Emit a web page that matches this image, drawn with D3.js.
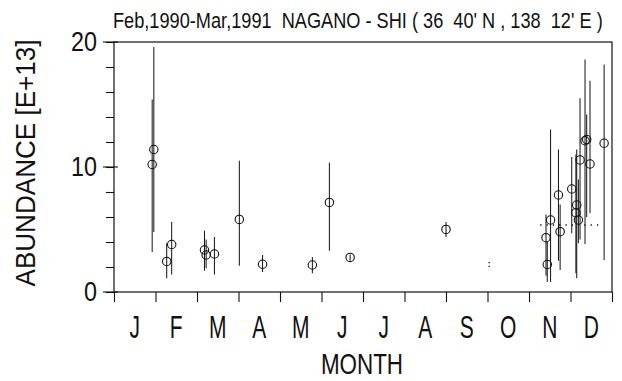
<!DOCTYPE html>
<html><head><meta charset="utf-8">
<script src="https://cdn.jsdelivr.net/npm/d3@7"></script>
<style>body{margin:0;background:#fff}svg{display:block}</style>
</head><body><svg id="c" width="622" height="381"></svg>
<script>
const titleText = "Feb,1990-Mar,1991  NAGANO - SHI ( 36  40' N , 138  12' E )";
const yTitle = "ABUNDANCE [E+13]";
const xTitle = "MONTH";
const monthLabels = ["J","F","M","A","M","J","J","A","S","O","N","D"];
const monthBounds = [0,1,2,3,4,5,6,7,8,9,10,11,12];
const yMajorTicks = [0,10,20];
const yMinorTicks = [0,2,4,6,8,10,12,14,16,18,20];

// observations: position in month units, value, error-bar low/high
const obsMonth = [0.92,0.96,1.27,1.39, 2.18,2.22,2.42,3.02, 3.58, 4.78, 5.19,5.69, 8.0,
  10.41,10.44,10.52,10.71,10.75,11.03,11.13,11.15,11.19,11.23,11.35,11.39,11.47,11.81];
const obsValue = [10.2,11.4,2.45,3.8, 3.36,2.96,3.04,5.81, 2.22, 2.16, 7.17,2.77, 5.01,
  4.35,2.2,5.76,7.76,4.83,8.24,6.35,6.96,5.76,10.56,12.1,12.2,10.24,11.9];
const obsLow = [3.2,4.8,1.1,1.4, 1.7,1.9,1.4,2.1, 1.6, 1.5, 3.3,2.5, 4.4,
  1.3,0.8,0.8,2.5,1.76,4.7,1.5,1.1,3.9,4.2,3.84,6.0,6.3,2.56];
const obsHigh = [15.4,19.6,3.9,5.6, 4.9,4.2,4.4,10.5, 2.96, 2.8, 10.35,3.0, 5.6,
  6.2,4.0,13.0,11.4,7.0,10.8,11.0,11.4,9.0,15.5,18.6,14.2,16.9,18.2];

// dotted marks
const dotVertMonth = [9.04];
const dotVertLow = [2.0];
const dotVertHigh = [2.6];
const dotHorizStart = [10.27];
const dotHorizEnd = [11.76];
const dotHorizValue = [5.36];

const svg = d3.select("#c");
const x = d3.scaleLinear().domain([0,12]).range([114,612]);
const y = d3.scaleLinear().domain([0,20]).range([292,42]);
const ink = "#111";
const font = "'Liberation Sans',Arial,sans-serif";

// title (fit to width 490 by horizontal scaling)
const title = svg.append("text").attr("x",0).attr("y",0)
  .attr("font-family",font).attr("font-size",18).attr("fill",ink)
  .style("white-space","pre").attr("xml:space","preserve")
  .text(titleText);
const tw = title.node().getComputedTextLength();
title.attr("transform",`translate(113,27.5) scale(${490/tw},1.2)`);

// box
svg.append("rect").attr("x",x(0)).attr("y",y(20)).attr("width",x(12)-x(0)).attr("height",y(0)-y(20))
  .attr("fill","none").attr("stroke",ink).attr("stroke-width",1.2);

// bottom axis ticks
const xAxis = d3.axisBottom(x).tickValues(monthBounds).tickSize(10).tickFormat("");
const gx = svg.append("g").attr("transform",`translate(0,${y(0)})`).call(xAxis);
gx.select(".domain").remove();
gx.selectAll("line").attr("stroke",ink).attr("stroke-width",1.1);

// left axis ticks
const yAxis = d3.axisLeft(y).tickValues(yMinorTicks).tickSize(8).tickFormat("");
const gy = svg.append("g").attr("transform",`translate(${x(0)},0)`).call(yAxis);
gy.select(".domain").remove();
gy.selectAll("line").attr("stroke",ink).attr("stroke-width",1.1);
svg.append("g").selectAll("line").data(yMajorTicks).join("line")
  .attr("x1",x(0)-11).attr("x2",x(0)+4).attr("y1",d=>y(d)).attr("y2",d=>y(d))
  .attr("stroke",ink).attr("stroke-width",1.1);

// y tick labels
svg.append("g").selectAll("text").data(yMajorTicks).join("text")
  .attr("text-anchor","end")
  .attr("transform",d=>`translate(97,${y(d)+9}) scale(0.9,1.05)`)
  .attr("font-family",font).attr("font-size",26).attr("fill",ink)
  .text(d=>d);

// month labels
svg.append("g").selectAll("text").data(monthLabels).join("text")
  .attr("transform",(d,i)=>`translate(${x(i+0.5)},338) scale(0.75,1.1)`).attr("text-anchor","middle")
  .attr("font-family",font).attr("font-size",28).attr("fill",ink)
  .text(d=>d);

// axis titles
svg.append("text").attr("transform","translate(362,374) scale(0.8,1.05)").attr("text-anchor","middle")
  .attr("font-family",font).attr("font-size",28).attr("fill",ink).text(xTitle);
svg.append("text").attr("transform","translate(35,163) rotate(-90)").attr("text-anchor","middle")
  .attr("font-family",font).attr("font-size",27).attr("fill",ink)
  .attr("textLength",247).attr("lengthAdjust","spacingAndGlyphs").text(yTitle);

// data
const obs = obsMonth.map((m,i)=>({m, v:obsValue[i], lo:obsLow[i], hi:obsHigh[i]}));
const plot = svg.append("g");
plot.selectAll("line.err").data(obs).join("line").attr("class","err")
  .attr("x1",d=>x(d.m)).attr("x2",d=>x(d.m)).attr("y1",d=>y(d.lo)).attr("y2",d=>y(d.hi))
  .attr("stroke",ink).attr("stroke-width",1);
plot.selectAll("circle").data(obs).join("circle")
  .attr("cx",d=>x(d.m)).attr("cy",d=>y(d.v)).attr("r",4.2)
  .attr("fill","none").attr("stroke",ink).attr("stroke-width",1.1);

plot.selectAll("line.dv").data(dotVertMonth).join("line").attr("class","dv")
  .attr("x1",d=>x(d)).attr("x2",d=>x(d)).attr("y1",(d,i)=>y(dotVertLow[i])).attr("y2",(d,i)=>y(dotVertHigh[i]))
  .attr("stroke",ink).attr("stroke-width",1.3).attr("stroke-dasharray","1.3,2.5");
plot.selectAll("line.dh").data(dotHorizStart).join("line").attr("class","dh")
  .attr("x1",d=>x(d)).attr("x2",(d,i)=>x(dotHorizEnd[i])).attr("y1",(d,i)=>y(dotHorizValue[i])).attr("y2",(d,i)=>y(dotHorizValue[i]))
  .attr("stroke",ink).attr("stroke-width",1.3).attr("stroke-dasharray","1.3,5");
</script></body></html>
